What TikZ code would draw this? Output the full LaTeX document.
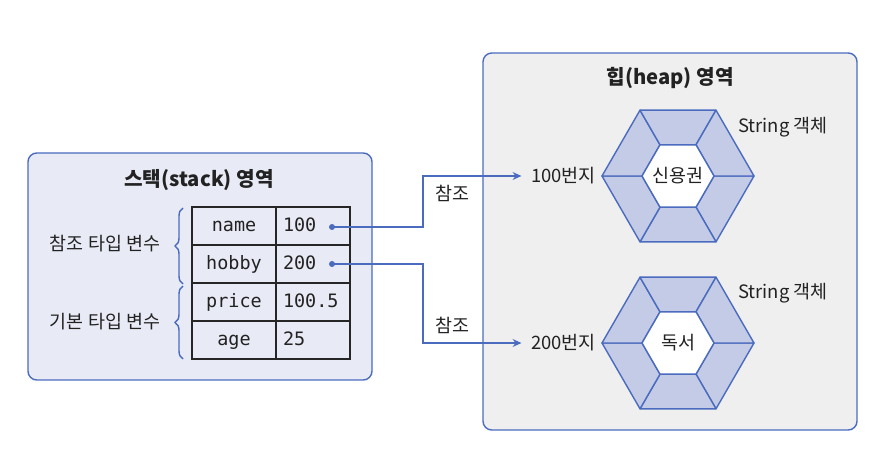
\documentclass[tikz,border=0pt]{standalone}
\usepackage{fontspec}
\setmainfont{Noto Sans CJK KR}
\newfontfamily\codefont{DejaVu Sans Mono}
\usetikzlibrary{arrows.meta,decorations.pathreplacing}

\definecolor{lineblue}{HTML}{4A6BBE}
\definecolor{stackfill}{HTML}{E8EBF5}
\definecolor{heapfill}{HTML}{EFEFEF}
\definecolor{hexfill}{HTML}{C4CBE6}
\definecolor{textgray}{HTML}{222222}

\tikzset{
  area/.style={draw=lineblue, line width=0.8pt, rounded corners=5pt},
  cell/.style={draw=black!85, line width=0.8pt, minimum height=0.76cm, font=\codefont\fontsize{10.5}{12}\selectfont, inner sep=0pt, text height=1.6ex, text depth=0.45ex},
  namecell/.style={cell, minimum width=1.68cm},
  valcell/.style={cell, text width=1.2cm, align=left, inner xsep=0.14cm},
  refdot/.style={circle, fill=lineblue, inner sep=0pt, minimum size=0.12cm},
  refline/.style={draw=lineblue, line width=0.8pt, -{Stealth[length=5pt,width=4.5pt]}, shorten >=2pt},
  hexpart/.style={draw=lineblue, line width=0.8pt, fill=hexfill, line join=round},
  brace/.style={draw=lineblue, line width=0.8pt, decorate, decoration={brace, amplitude=0.16cm}}
}

\begin{document}
\begin{tikzpicture}[x=0.02cm, y=-0.02cm, every node/.style={text=textgray, font=\fontsize{10.5}{12}\selectfont}]
      \useasboundingbox (0,0) rectangle (892,472);

      % Areas
      \filldraw[area, fill=stackfill] (28,153) rectangle (372,380);
      \filldraw[area, fill=heapfill] (483,53) rectangle (857,430);
      \node[font=\bfseries\fontsize{11.5}{13}\selectfont] (stacktitle) at (199,180) {스택(stack) 영역};
      \node[font=\bfseries\fontsize{11.5}{13}\selectfont] (heaptitle) at (670,78) {힙(heap) 영역};

      % Table
      \node[namecell] (name) at (234,226) {name};
      \node[namecell] (hobby) at (234,264) {hobby};
      \node[namecell] (price) at (234,302) {price};
      \node[namecell] (age) at (234,340) {age};
      \node[valcell] (nameval) at (313,226) {100};
      \node[valcell] (hobbyval) at (313,264) {200};
      \node[valcell] (priceval) at (313,302) {100.5};
      \node[valcell] (ageval) at (313,340) {25};

      % Braces
      \draw[brace] (183,284) -- (183,208);
      \draw[brace] (183,359) -- (183,286);
      \node (reftype) at (105,244) {참조 타입 변수};
      \node (basetype) at (105,322) {기본 타입 변수};

      % Hexagons
      \foreach \cy/\hname/\word in {176/hex1/신용권, 343/hex2/독서} {
        \begin{scope}[shift={(678,\cy)}]
          \foreach \a in {0,60,...,300}
            \filldraw[hexpart] (\a:76) -- (\a+60:76) -- (\a+60:36) -- (\a:36) -- cycle;
          \filldraw[hexpart, fill=white] (0:36) -- (60:36) -- (120:36) -- (180:36) -- (240:36) -- (300:36) -- cycle;
          \node (\hname) at (0,0) {\word};
        \end{scope}
      }
      \node[anchor=west] (str1) at (732,127) {String 객체};
      \node[anchor=west] (str2) at (732,293) {String 객체};
      \node[anchor=east] (addr1) at (602,176) {100번지};
      \node[anchor=east] (addr2) at (602,343) {200번지};

      % References
      \node[refdot] (dot1) at (332,227) {};
      \node[refdot] (dot2) at (332,264) {};
      \coordinate (turn1) at (423,227);
      \coordinate (turn2) at (423,264);
      \draw[refline] (dot1.center) -- (turn1) |- (addr1.west);
      \draw[refline] (dot2.center) -- (turn2) |- (addr2.west);
      \node (ref1) at (452,193) {참조};
      \node (ref2) at (452,325) {참조};
    \end{tikzpicture}
\end{document}
